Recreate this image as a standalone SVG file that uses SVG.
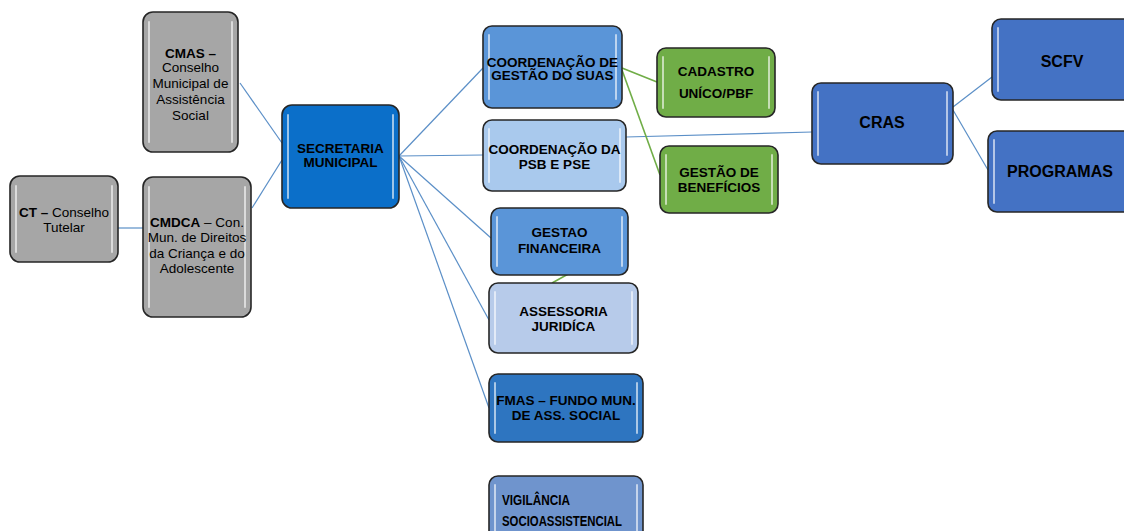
<svg xmlns="http://www.w3.org/2000/svg" width="1124" height="531" viewBox="0 0 1124 531">
<style>
.box{stroke:#262626;stroke-width:1.6}
.hl{stroke:#ffffff;stroke-opacity:0.6;stroke-width:2;fill:none;stroke-linecap:round}
.gray{fill:#a6a6a6}
.t{font-family:"Liberation Sans",Arial,sans-serif;fill:#000;text-anchor:middle}
.b{font-weight:bold}
.reg{font-size:13.5px}
.bt{font-size:13.5px;font-weight:bold}
.big{font-size:16px;font-weight:bold}
.cb{stroke:#5b8fc7;stroke-width:1.2;fill:none}
.cg{stroke:#70ad47;stroke-width:1.6;fill:none}
</style>
<rect width="1124" height="531" fill="#ffffff"/>
<g id="connectors">
<line class="cb" x1="240" y1="83" x2="282" y2="143"/>
<line class="cb" x1="252" y1="208" x2="282" y2="160"/>
<line class="cb" x1="118" y1="228" x2="143" y2="228"/>
<line class="cb" x1="399" y1="156" x2="483" y2="68"/>
<line class="cb" x1="399" y1="156" x2="483" y2="155"/>
<line class="cb" x1="399" y1="156" x2="491" y2="238"/>
<line class="cb" x1="399" y1="156" x2="489" y2="320"/>
<line class="cb" x1="399" y1="156" x2="489" y2="408"/>
<line class="cb" x1="626" y1="137" x2="812" y2="132"/>
<line class="cb" x1="953" y1="107" x2="992" y2="77"/>
<line class="cb" x1="953" y1="110" x2="988" y2="170"/>
<line class="cg" x1="622" y1="68" x2="657" y2="82"/>
<line class="cg" x1="622" y1="70" x2="660" y2="175"/>
<line class="cg" x1="628" y1="241" x2="552" y2="283"/>
</g>
<g id="cmas">
<rect class="box gray" x="143" y="12" width="95" height="140" rx="10"/>
<line class="hl" x1="149" y1="22" x2="149" y2="142"/><line class="hl" x1="232" y1="22" x2="232" y2="142"/>
<text class="t reg" x="190.5"><tspan class="b" x="190.5" y="58">CMAS –</tspan><tspan x="190.5" y="72">Conselho</tspan><tspan x="190.5" y="88">Municipal de</tspan><tspan x="190.5" y="104">Assistência</tspan><tspan x="190.5" y="120">Social</tspan></text>
</g>
<g id="ct">
<rect class="box gray" x="10" y="176" width="108" height="86" rx="10"/>
<line class="hl" x1="16" y1="186" x2="16" y2="252"/><line class="hl" x1="112" y1="186" x2="112" y2="252"/>
<text class="t reg" x="64"><tspan x="64" y="217"><tspan class="b">CT –</tspan> Conselho</tspan><tspan x="64" y="232">Tutelar</tspan></text>
</g>
<g id="cmdca">
<rect class="box gray" x="143" y="177" width="108" height="140" rx="10"/>
<line class="hl" x1="149" y1="187" x2="149" y2="307"/><line class="hl" x1="245" y1="187" x2="245" y2="307"/>
<text class="t reg" x="197"><tspan x="197" y="227"><tspan class="b">CMDCA</tspan> – Con.</tspan><tspan x="197" y="242">Mun. de Direitos</tspan><tspan x="197" y="258">da Criança e do</tspan><tspan x="197" y="273">Adolescente</tspan></text>
</g>
<g id="secretaria">
<rect class="box" fill="#0b6fc9" x="282" y="105" width="117" height="103" rx="10"/>
<line class="hl" x1="288" y1="115" x2="288" y2="198"/><line class="hl" x1="393" y1="115" x2="393" y2="198"/>
<text class="t bt" x="340.5"><tspan x="340.5" y="153">SECRETARIA</tspan><tspan x="340.5" y="167">MUNICIPAL</tspan></text>
</g>
<g id="coord-suas">
<rect class="box" fill="#5a95d8" x="483" y="26" width="139" height="82" rx="9"/>
<line class="hl" x1="489" y1="35" x2="489" y2="99"/><line class="hl" x1="616" y1="35" x2="616" y2="99"/>
<text class="t bt" x="552.5"><tspan x="552.5" y="67">COORDENAÇÃO DE</tspan><tspan x="552.5" y="80">GESTÃO DO SUAS</tspan></text>
</g>
<g id="coord-psb">
<rect class="box" fill="#a9c9ed" x="483" y="120" width="143" height="71" rx="9"/>
<line class="hl" x1="489" y1="129" x2="489" y2="182"/><line class="hl" x1="620" y1="129" x2="620" y2="182"/>
<text class="t bt" x="554.5"><tspan x="554.5" y="154">COORDENAÇÃO DA</tspan><tspan x="554.5" y="169">PSB E PSE</tspan></text>
</g>
<g id="gestao-financeira">
<rect class="box" fill="#5a95d8" x="491" y="208" width="137" height="67" rx="9"/>
<line class="hl" x1="497" y1="217" x2="497" y2="266"/><line class="hl" x1="622" y1="217" x2="622" y2="266"/>
<text class="t bt" x="559.5"><tspan x="559.5" y="237">GESTAO</tspan><tspan x="559.5" y="253">FINANCEIRA</tspan></text>
</g>
<g id="assessoria">
<rect class="box" fill="#b7cbea" x="489" y="283" width="149" height="70" rx="9"/>
<line class="hl" x1="495" y1="292" x2="495" y2="344"/><line class="hl" x1="632" y1="292" x2="632" y2="344"/>
<text class="t bt" x="563.5"><tspan x="563.5" y="316">ASSESSORIA</tspan><tspan x="563.5" y="331">JURIDÍCA</tspan></text>
</g>
<g id="fmas">
<rect class="box" fill="#2e75c0" x="489" y="374" width="154" height="68" rx="9"/>
<line class="hl" x1="495" y1="383" x2="495" y2="433"/><line class="hl" x1="637" y1="383" x2="637" y2="433"/>
<text class="t bt" x="566"><tspan x="566" y="405">FMAS – FUNDO MUN.</tspan><tspan x="566" y="420">DE ASS. SOCIAL</tspan></text>
</g>
<g id="vigilancia">
<rect class="box" fill="#6f94cd" x="489" y="476" width="154" height="70" rx="9"/>
<line class="hl" x1="495" y1="485" x2="495" y2="531"/><line class="hl" x1="637" y1="485" x2="637" y2="531"/>
<text class="t b" style="font-size:14px;text-anchor:start" x="502" y="505" textLength="68" lengthAdjust="spacingAndGlyphs">VIGILÂNCIA</text>
<text class="t b" style="font-size:14px;text-anchor:start" x="502" y="526" textLength="120" lengthAdjust="spacingAndGlyphs">SOCIOASSISTENCIAL</text>
</g>
<g id="cadastro">
<rect class="box" fill="#70ad47" x="657" y="48" width="118" height="69" rx="9"/>
<line class="hl" x1="663" y1="57" x2="663" y2="108"/><line class="hl" x1="769" y1="57" x2="769" y2="108"/>
<text class="t bt" x="716"><tspan x="716" y="76">CADASTRO</tspan><tspan x="716" y="98">UNÍCO/PBF</tspan></text>
</g>
<g id="beneficios">
<rect class="box" fill="#70ad47" x="660" y="146" width="118" height="67" rx="9"/>
<line class="hl" x1="666" y1="155" x2="666" y2="204"/><line class="hl" x1="772" y1="155" x2="772" y2="204"/>
<text class="t bt" x="719"><tspan x="719" y="177">GESTÃO DE</tspan><tspan x="719" y="192">BENEFÍCIOS</tspan></text>
</g>
<g id="cras">
<rect class="box" fill="#4472c4" x="812" y="83" width="141" height="81" rx="9"/>
<line class="hl" x1="818" y1="92" x2="818" y2="155"/><line class="hl" x1="947" y1="92" x2="947" y2="155"/>
<text class="t big" x="882" y="128">CRAS</text>
</g>
<g id="scfv">
<rect class="box" fill="#4472c4" x="992" y="19" width="150" height="81" rx="9"/>
<line class="hl" x1="998" y1="28" x2="998" y2="91"/>
<text class="t big" x="1062" y="67">SCFV</text>
</g>
<g id="programas">
<rect class="box" fill="#4472c4" x="988" y="131" width="154" height="81" rx="9"/>
<line class="hl" x1="994" y1="140" x2="994" y2="203"/>
<text class="t big" x="1060" y="177">PROGRAMAS</text>
</g>
</svg>
